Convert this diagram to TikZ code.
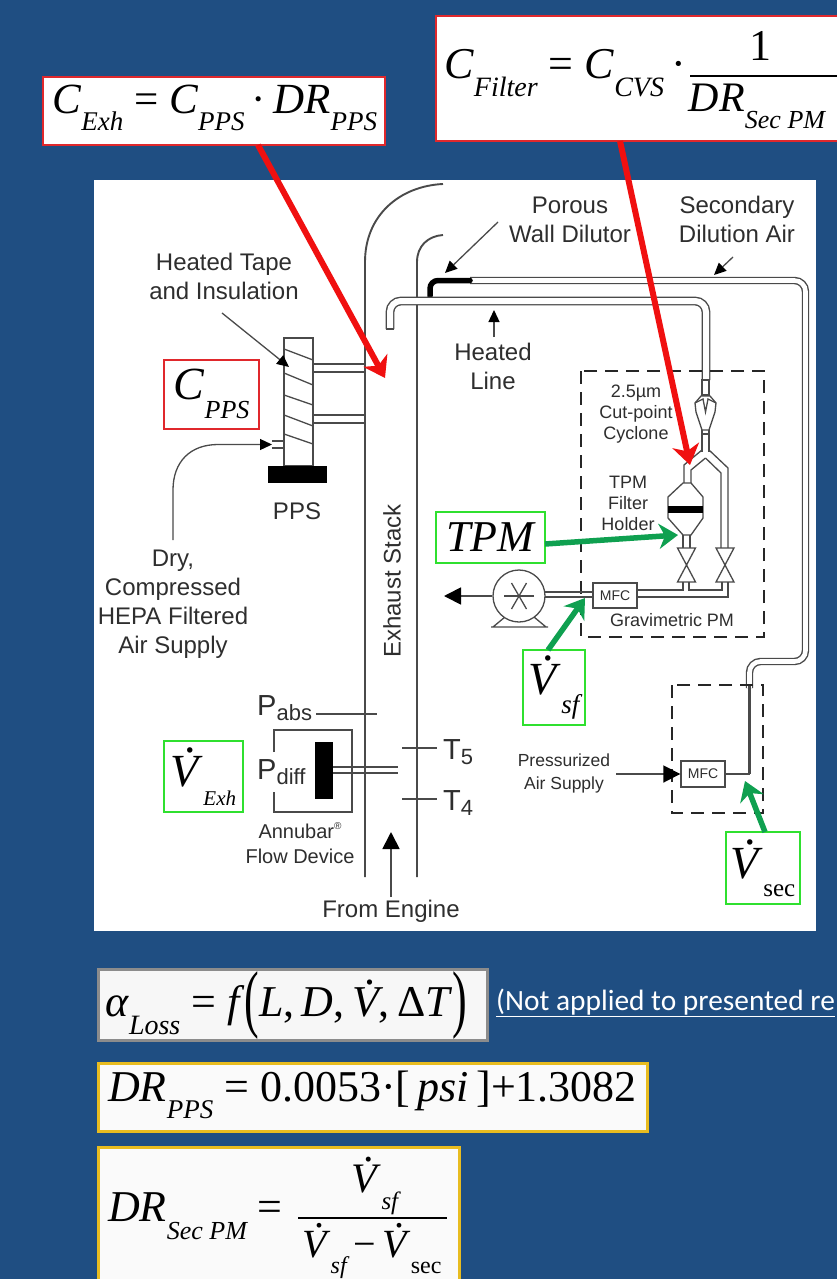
\documentclass[tikz,border=0pt]{standalone}
\usepackage{fontspec}
\setmainfont{Liberation Sans}
\newfontfamily\fm{Liberation Serif}
\newfontfamily\lnk{Carlito}
\usetikzlibrary{arrows.meta}
\definecolor{bgblue}{HTML}{1F4E82}
\definecolor{ink}{HTML}{2E2E2E}
\definecolor{pipe}{HTML}{4A4A4A}
\definecolor{redb}{HTML}{E0282C}
\definecolor{redarr}{HTML}{F01010}
\definecolor{greenb}{HTML}{2FE02F}
\definecolor{greenarr}{HTML}{0FA050}
\definecolor{gold}{HTML}{E8BC20}
\newcommand\sbi[2]{\raisebox{-.4em}{\fontsize{#1}{#1}\selectfont\itshape #2}}
\newcommand\sbu[2]{\raisebox{-.4em}{\fontsize{#1}{#1}\selectfont #2}}
\newcommand\Vd{\makebox[0pt][l]{\hspace{.29em}\raisebox{.74em}{\textup{.}}}\textit{V}}
\newcommand\fs[1]{\fontsize{#1}{#1}\selectfont}
\tikzset{
 lbl/.style={inner sep=0pt,text=ink,align=center,font=\fs{24}},
 lblm/.style={inner sep=0pt,text=ink,align=center,font=\fs{18}},
 eq/.style={inner sep=0pt,anchor=west,text=black,font=\fm\fs{44}},
 redbox/.style={draw=redb,line width=2.8pt,fill=white,inner sep=0pt},
 grnbox/.style={draw=greenb,line width=2.8pt,fill=white,inner sep=0pt},
 goldbox/.style={draw=gold,line width=3pt,fill=white!98!black},
 redarrow/.style={draw=redarr,line width=6pt,-{Stealth[length=20pt,width=27pt,inset=6pt]}},
 grnarrow/.style={draw=greenarr,line width=5.5pt,-{Stealth[length=19pt,width=25pt,inset=6pt]}},
 thin line/.style={draw=pipe,line width=1.3pt},
 stack/.style={draw=pipe,line width=1.9pt},
 tube/.style={draw=pipe,line width=1.4pt,double=white,rounded corners=11pt},
 dashbox/.style={draw=black!85,line width=2pt,dash pattern=on 13pt off 8pt},
 tip/.style={draw=pipe,line width=1.3pt,-{Triangle[length=12pt,width=11pt,black]}},
 bigtip/.style={draw=pipe,line width=1.8pt,-{Triangle[length=17pt,width=17pt,black]}},
 mfc/.style={draw=pipe,line width=1.4pt,fill=white,inner sep=0pt,font=\fs{14},text=ink,minimum height=0pt},
}
\begin{document}
\begin{tikzpicture}[x=1pt,y=-1pt]
\useasboundingbox (0,0) rectangle (837,1279);
\fill[bgblue] (0,0) rectangle (837,1279);
\fill[white] (94,180) rectangle (816,931);

% stack
\draw[stack] (365,877) -- (365,262) .. controls (365,215) and (400,186) .. (443,184);
\draw[stack] (417,877) -- (417,262) .. controls (417,246) and (428,236) .. (443,235);

% secondary air tube
\draw[tube,double distance=4.6pt] (470,280.5) -- (805.5,280.5) -- (805.5,661.5) -- (749.5,661.5) -- (749.5,688);
\draw[pipe,line width=3.6pt] (749.5,685) -- (749.5,774);
\draw[line cap=round,line width=5.5pt,black,rounded corners=8pt] (430,296) -- (430,280.5) -- (470,280.5);

% heated line
\draw[tube,double distance=6pt] (390,329) -- (390,301) -- (706,301) -- (706,380);
\draw[thin line] (386,329) -- (394,329);

% dashed boxes
\draw[dashbox] (581,371) rectangle (764,637);
\draw[dashbox] (672,685) rectangle (763,813);

% cyclone
\draw[thin line,fill=white] (702,380) rectangle (709,395);
\draw[thin line,fill=white] (701,396) -- (695,403) -- (696,412) -- (702,430) -- (709,430) -- (715,412) -- (716,403) -- (710,396) -- cycle;
\draw[thin line] (695,403) -- (703,399) -- (705.5,412) -- (708,399) -- (716,403);
\draw[thin line] (702,430) -- (702,452) (709,430) -- (709,452);
\draw[thin line] (702,434) -- (709,434);

% Y split
\draw[thin line] (702,450) -- (684,465) -- (684,483);
\draw[thin line] (709,450) -- (728,468) -- (728,549);
\draw[thin line] (705.5,458) -- (691,470) -- (691,483);
\draw[thin line] (705.5,458) -- (721,473) -- (721,549);

% filter holder
\draw[thin line,fill=white] (683,483) -- (691,483) -- (703,497) -- (703,518) -- (691,535) -- (683,535) -- (668,518) -- (668,497) -- cycle;
\fill[black] (668,506) rectangle (703,513);
\draw[thin line] (683,535) -- (683,549) (690,535) -- (690,549);

% valves
\foreach \vx in {686.5,725} {
 \draw[thin line,fill=white] (\vx-9,548) -- (\vx+9,548) -- (\vx-9,582) -- (\vx+9,582) -- cycle;
}
% lower pipework
\draw[thin line] (637,590) -- (683,590) -- (683,582);
\draw[thin line] (689,582) -- (689,590) -- (722,590) -- (722,582);
\draw[thin line] (728,582) -- (728,597) -- (637,597);
\draw[thin line] (545,592) -- (593,592) (545,597) -- (593,597);

% MFC + pump
\node[mfc,minimum width=44pt,minimum height=25pt] (mfca) at (615,595.5) {MFC};
\node[mfc,minimum width=44pt,minimum height=26pt] (mfcb) at (703,774) {MFC};
\draw[thin line] (493,627) -- (505,617) (546,627) -- (534,617) (491,627) -- (548,627);
\node[circle,draw=pipe,line width=1.3pt,fill=white,minimum size=52pt,inner sep=0pt] (pump) at (519,596) {};
\foreach \a in {0,60,120} \draw[thin line] (519,596) ++(\a:15) -- ++(\a+180:30);
\coordinate (pumpout) at (444,596);
\draw[bigtip] (pump.west) -- (pumpout);
\coordinate (mfcbr) at (750,774);
\draw[thin line,line width=1.6pt] (mfcb.east) -- (mfcbr);
\coordinate (presa) at (616,774);
\draw[bigtip] (presa) -- (mfcb.west);

% PPS
\draw[thin line,line width=1.5pt,fill=white] (284,338) rectangle (313,466);
\foreach \ya/\yb in {349/360,373/385,395/405,415/426,434/444} \draw[thin line] (284,\ya) -- (313,\yb);
\fill[black] (268,466) rectangle (327,483);
\draw[thin line] (313,364) -- (365,364) (313,372) -- (365,372) (313,415) -- (365,415) (313,423) -- (365,423);
\draw[thin line] (272,441) -- (283,441) (272,448) -- (283,448);
\coordinate (airstart) at (173,540);
\coordinate (airend) at (272,444.5);
\draw[tip] (airstart) -- (173,490) .. controls (173,462) and (190,444.5) .. (218,444.5) -- (airend);
\coordinate (tapestart) at (222,313);
\coordinate (tapeend) at (289,367);
\draw[tip] (tapestart) -- (tapeend);

% Annubar
\draw[thin line,line width=1.6pt] (274,752) -- (274,730) -- (352,730) -- (352,812) -- (274,812) -- (274,792);
\fill[black] (315,742) rectangle (333,799);
\draw[thin line] (333,767) -- (398,767) (333,773) -- (398,773);
\coordinate (pabsL) at (316,714); \coordinate (pabsR) at (377,714);
\draw[thin line] (pabsL) -- (pabsR);
\coordinate (t5L) at (402,748); \coordinate (t5R) at (437,748);
\draw[thin line] (t5L) -- (t5R);
\coordinate (t4L) at (402,799); \coordinate (t4R) at (437,799);
\draw[thin line] (t4L) -- (t4R);

% labels
\node[lbl] (ht) at (224,276.5) {Heated Tape\\[5pt]and Insulation};
\node[lbl] (pps) at (297,511) {PPS};
\node[lbl] (dry) at (173,604) {Dry,\\[5pt]Compressed\\[5pt]HEPA Filtered\\[5pt]Air Supply};
\node[lbl,rotate=90] (es) at (392,581) {Exhaust Stack};
\node[lbl,anchor=west,font=\fs{29}] (pabs) at (257,708) {P\raisebox{-.16em}{\fs{22}abs}};
\node[lbl,anchor=west,font=\fs{29}] (pdiff) at (257,772) {P\raisebox{-.16em}{\fs{22}diff}};
\node[lbl,anchor=west,font=\fs{29}] (t5) at (443,752) {T\raisebox{-.16em}{\fs{22}5}};
\node[lbl,anchor=west,font=\fs{29}] (t4) at (443,803) {T\raisebox{-.16em}{\fs{22}4}};
\node[lbl,font=\fs{20}] (ann) at (300,843.5) {Annubar\raisebox{.45em}{\fs{10}®}\\[5pt]Flow Device};
\node[lbl] (eng) at (391,911) {From Engine};
\coordinate (engstart) at (391,897); 
\coordinate (engend) at (391,832);
\draw[bigtip] (engstart) -- (engend);
\node[lbl] (pwd) at (570,219.5) {Porous\\[5pt]Wall Dilutor};
\node[lbl] (sda) at (737,219.5) {Secondary\\[5pt]Dilution Air};
\node[lbl] (hl) at (493,366.5) {Heated\\[5pt]Line};
\coordinate (hla) at (494,337); \coordinate (hlb) at (494,310);
\draw[tip] (hla) -- (hlb);
\coordinate (pwa) at (498,222); \coordinate (pwb) at (445,273);
\draw[tip] (pwa) -- (pwb);
\coordinate (sda1) at (733,257); \coordinate (sda2) at (714,275);
\draw[tip] (sda1) -- (sda2);
\node[lblm] (cyc) at (636,414.5) {2.5µm\\[3pt]Cut-point\\[3pt]Cyclone};
\node[lblm] (tfh) at (628,503) {TPM\\[3pt]Filter\\[3pt]Holder};
\node[lblm] (grav) at (672,620) {Gravimetric PM};
\node[lblm,font=\fs{17.5}] (pas) at (564,773.5) {Pressurized\\[5pt]Air Supply};

% top equations
\node[redbox,minimum width=342pt,minimum height=68pt] (cexh) at (214,111) {};
\node[eq,font=\fm\fs{43}] (cexht) at (52,108) {\textit{C}\sbi{27}{Exh} = \textit{C}\sbi{27}{PPS}\,·\,\textit{DR}\sbi{27}{PPS}};
\fill[white] (436,16) rectangle (837,141);
\draw[redb,line width=2.8pt] (837,16) -- (436,16) -- (436,141) -- (837,141);
\node[eq] (cfil) at (444,73) {\textit{C}\sbi{28}{Filter} = \textit{C}\sbi{28}{CVS}\,·};
\coordinate (fba) at (690,76); \coordinate (fbb) at (837,76);
\draw[black,line width=1.5pt] (fba) -- (fbb);
\node[inner sep=0pt,font=\fm\fs{44}] (one) at (760,46) {1};
\node[inner sep=0pt,font=\fm\fs{42}] (den) at (757,106) {\textit{DR}\sbi{26}{Sec PM}};

% quantity boxes
\node[redbox,minimum width=95pt,minimum height=69pt] (cpps) at (211.5,394.5) {};
\node[inner sep=0pt,font=\fm\fs{46}] (cppst) at (211.5,394) {\textit{C}\sbi{26}{PPS}};
\node[grnbox,minimum width=109pt,minimum height=51pt,font=\fm\itshape\fs{44}] (tpm) at (490.5,537.5) {TPM};
\node[grnbox,minimum width=62pt,minimum height=75pt,font=\fm\fs{46}] (vsf) at (554,687.5) {\Vd\sbi{27}{sf}};
\node[grnbox,minimum width=74pt,minimum height=72pt,font=\fm\fs{46}] (vsec) at (763,868) {\Vd\sbu{25}{sec}};
\node[grnbox,minimum width=79pt,minimum height=71pt,font=\fm\fs{46}] (vexh) at (203.5,776.5) {\Vd\sbi{21}{Exh}};

% arrows
\coordinate (ra1) at (258,145); \coordinate (ra2) at (385,378);
\coordinate (rb1) at (620,141); \coordinate (rb2) at (690,465);
\draw[redarrow] (ra1) -- (ra2);
\draw[redarrow] (rb1) -- (rb2);
\coordinate (ga1) at (545,544); \coordinate (ga2) at (678,535);
\coordinate (gb1) at (548,650); \coordinate (gb2) at (585,598);
\coordinate (gc1) at (765,832); \coordinate (gc2) at (745,781);
\draw[grnarrow] (ga1) -- (ga2);
\draw[grnarrow] (gb1) -- (gb2);
\draw[grnarrow] (gc1) -- (gc2);

% bottom equations
\node[draw=black!45,line width=3pt,fill=white!97!black,minimum width=389pt,minimum height=71pt,inner sep=0pt] (alpha) at (292.5,1004.5) {};
\node[eq] (alphat) at (105,1006) {\textit{α}\sbi{28}{Loss} = \textit{f}\raisebox{-.16em}{\scalebox{1}[1.7]{(}}\textit{L},\,\textit{D},\,\Vd,\,Δ\textit{T}\raisebox{-.16em}{\scalebox{1}[1.7]{)}}};
\node[anchor=west,inner sep=0pt,text=white,font=\lnk\fs{29.4}] (note) at (496,1003) {\underline{(Not applied to presented re}};
\node[goldbox,minimum width=549pt,minimum height=68pt,inner sep=0pt] (drpps) at (372.5,1097) {};
\node[eq] (drppst) at (108,1095) {\textit{DR}\sbi{27}{PPS} = 0.0053·[\,\textit{psi}\,]+1.3082};
\fill[white!98!black] (98,1147) rectangle (459,1279);
\draw[gold,line width=3pt] (98,1279) -- (98,1147) -- (459,1147) -- (459,1279);
\node[eq] (drsec) at (108,1216) {\textit{DR}\sbi{26}{Sec PM} =};
\coordinate (fca) at (298,1218); \coordinate (fcb) at (447,1218);
\draw[black,line width=1.5pt] (fca) -- (fcb);
\node[inner sep=0pt,font=\fm\fs{42}] (fcn) at (375,1186) {\Vd\sbi{25}{sf}};
\node[inner sep=0pt,font=\fm\fs{40}] (fcd) at (372,1251) {\Vd\sbi{24}{sf}\,−\,\Vd\sbu{24}{sec}};
\end{tikzpicture}
\end{document}
